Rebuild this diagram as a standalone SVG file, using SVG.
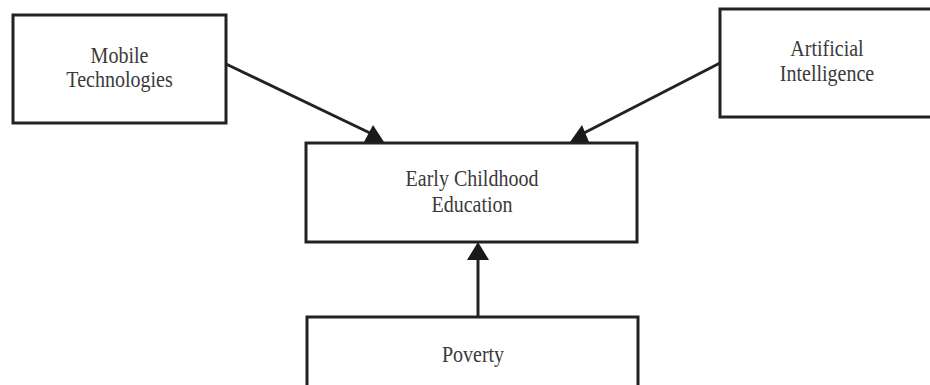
<svg xmlns="http://www.w3.org/2000/svg" width="930" height="385" viewBox="0 0 930 385">
<style>
.box{fill:#fff;stroke:#222;stroke-width:3}
.lbl{font-family:"Liberation Serif",serif;font-size:23px;fill:#3a3a3a;text-anchor:middle}
.edge{stroke:#222;stroke-width:3;fill:none}
.head{fill:#1a1a1a}
</style>
<rect width="930" height="385" fill="#fff"/>
<g id="mobile">
<rect class="box" x="13" y="15" width="213" height="108"/>
<text class="lbl" transform="translate(119.5,63) scale(0.87,1)">Mobile</text>
<text class="lbl" transform="translate(119.5,87) scale(0.87,1)">Technologies</text>
</g>
<g id="ai">
<rect class="box" x="720" y="9" width="216" height="108"/>
<text class="lbl" transform="translate(827,56) scale(0.87,1)">Artificial</text>
<text class="lbl" transform="translate(827,81) scale(0.87,1)">Intelligence</text>
</g>
<g id="ece">
<rect class="box" x="306" y="143" width="331" height="99"/>
<text class="lbl" transform="translate(472,186) scale(0.87,1)">Early Childhood</text>
<text class="lbl" transform="translate(472,212) scale(0.87,1)">Education</text>
</g>
<g id="poverty">
<rect class="box" x="307" y="317" width="331" height="70"/>
<text class="lbl" transform="translate(473,362) scale(0.87,1)">Poverty</text>
</g>
<g id="connectors">
<line class="edge" x1="226" y1="64" x2="370" y2="133"/>
<polygon class="head" points="373,125 364,142 384,142"/>
<line class="edge" x1="720" y1="63" x2="584" y2="133"/>
<polygon class="head" points="582,125 570,142 589,142"/>
<line class="edge" x1="478" y1="317" x2="478" y2="255"/>
<polygon class="head" points="478,242 467,260 489,260"/>
</g>
</svg>
